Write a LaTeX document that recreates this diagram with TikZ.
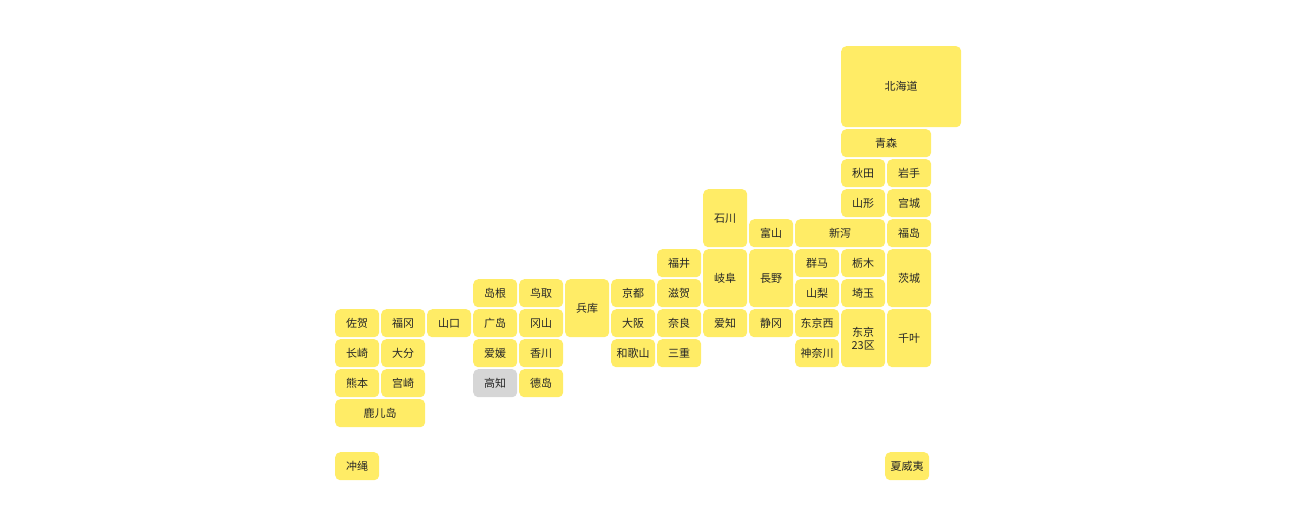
\documentclass[tikz,border=0pt]{standalone}
\usepackage{fontspec}
\newfontfamily\cjk{Noto Sans CJK SC}
\definecolor{pref}{HTML}{FFEC66}
\definecolor{grayp}{HTML}{D6D6D6}
\tikzset{cellbox/.style={fill=pref,draw=none,rounded corners=5pt,inner sep=0pt,align=center,font=\cjk\fontsize{11}{13}\selectfont,text=black!85}}
\newcommand{\pc}[7][pref]{\node[cellbox,fill=#1,minimum width=#5pt,minimum height=#6pt,anchor=north west] (#2) at (#3pt,-#4pt) {#7};}
\newcommand{\gc}[6]{\pgfmathsetmacro{\xx}{335+46*#2}\pgfmathsetmacro{\yy}{129+30*#3}\pgfmathsetmacro{\ww}{46*#4-2}\pgfmathsetmacro{\hh}{30*#5-2}\pc{#1}{\xx}{\yy}{\ww}{\hh}{#6}}
\begin{document}
\begin{tikzpicture}
\useasboundingbox (0,0) rectangle (1300pt,-515pt);
\pc{hokkaido}{841}{46}{120}{81}{北海道}
\gc{aomori}{11}{0}{2}{1}{青森}
\gc{akita}{11}{1}{1}{1}{秋田}
\gc{iwate}{12}{1}{1}{1}{岩手}
\gc{yamagata}{11}{2}{1}{1}{山形}
\gc{miyagi}{12}{2}{1}{1}{宫城}
\gc{ishikawa}{8}{2}{1}{2}{石川}
\gc{toyama}{9}{3}{1}{1}{富山}
\gc{niigata}{10}{3}{2}{1}{新泻}
\gc{fukushima}{12}{3}{1}{1}{福岛}
\gc{fukui}{7}{4}{1}{1}{福井}
\gc{gifu}{8}{4}{1}{2}{岐阜}
\gc{nagano}{9}{4}{1}{2}{長野}
\gc{gunma}{10}{4}{1}{1}{群马}
\gc{tochigi}{11}{4}{1}{1}{栃木}
\gc{ibaraki}{12}{4}{1}{2}{茨城}
\gc{shimane}{3}{5}{1}{1}{岛根}
\gc{tottori}{4}{5}{1}{1}{鸟取}
\gc{hyogo}{5}{5}{1}{2}{兵库}
\gc{kyoto}{6}{5}{1}{1}{京都}
\gc{shiga}{7}{5}{1}{1}{滋贺}
\gc{yamanashi}{10}{5}{1}{1}{山梨}
\gc{saitama}{11}{5}{1}{1}{埼玉}
\gc{saga}{0}{6}{1}{1}{佐贺}
\gc{fukuoka}{1}{6}{1}{1}{福冈}
\gc{yamaguchi}{2}{6}{1}{1}{山口}
\gc{hiroshima}{3}{6}{1}{1}{广岛}
\gc{okayama}{4}{6}{1}{1}{冈山}
\gc{osaka}{6}{6}{1}{1}{大阪}
\gc{nara}{7}{6}{1}{1}{奈良}
\gc{aichi}{8}{6}{1}{1}{爱知}
\gc{shizuoka}{9}{6}{1}{1}{静冈}
\gc{tokyow}{10}{6}{1}{1}{东京西}
\gc{tokyo}{11}{6}{1}{2}{东京\\23区}
\gc{chiba}{12}{6}{1}{2}{千叶}
\gc{nagasaki}{0}{7}{1}{1}{长崎}
\gc{oita}{1}{7}{1}{1}{大分}
\gc{ehime}{3}{7}{1}{1}{爱媛}
\gc{kagawa}{4}{7}{1}{1}{香川}
\gc{wakayama}{6}{7}{1}{1}{和歌山}
\gc{mie}{7}{7}{1}{1}{三重}
\gc{kanagawa}{10}{7}{1}{1}{神奈川}
\gc{kumamoto}{0}{8}{1}{1}{熊本}
\gc{miyazaki}{1}{8}{1}{1}{宫崎}
\pc[grayp]{kochi}{473}{369}{44}{28}{高知}
\gc{tokushima}{4}{8}{1}{1}{德岛}
\gc{kagoshima}{0}{9}{2}{1}{鹿儿岛}
\pc{okinawa}{335}{452}{44}{28}{冲绳}
\pc{hawaii}{885}{452}{44}{28}{夏威夷}
\end{tikzpicture}
\end{document}
